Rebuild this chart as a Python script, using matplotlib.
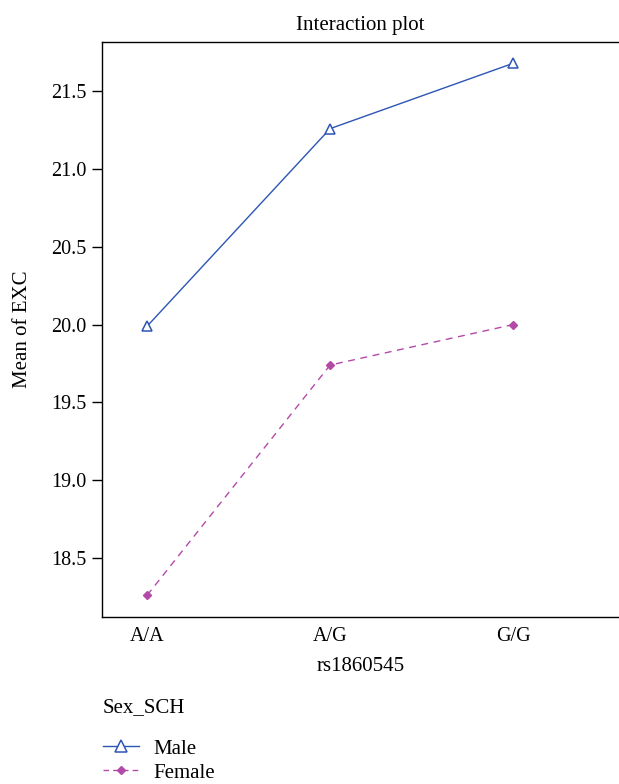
import numpy as np
import matplotlib
matplotlib.use('Agg')
import matplotlib.pyplot as plt
from matplotlib.lines import Line2D

# data
genotypes = ['A/A', 'A/G', 'G/G']
male_means = [19.99, 21.26, 21.68]
female_means = [18.26, 19.74, 20.00]
y_ticks = [18.5, 19.0, 19.5, 20.0, 20.5, 21.0, 21.5]

plt.rcParams['font.family'] = ['Liberation Serif', 'DejaVu Serif']

blue = '#2d55b4'
magenta = '#b34aa8'

fig = plt.figure(figsize=(6.19, 7.84), dpi=100)
ax = fig.add_axes([0.165, 0.213, 0.835, 0.733])

x = np.arange(len(genotypes))
ax.plot(x, male_means, color=blue, linewidth=1.0, marker='^', markersize=7.5,
        markerfacecolor='white', markeredgecolor=blue, markeredgewidth=1.1)
ax.plot(x, female_means, color=magenta, linewidth=1.0, linestyle=(0, (5, 4)),
        marker='D', markersize=4, markerfacecolor=magenta, markeredgecolor=magenta)

ax.set_xlim(-0.246, 2.579)
ax.set_ylim(18.12, 21.815)
ax.set_xticks(x)
ax.set_xticklabels(genotypes, fontsize=14.5)
ax.set_yticks(y_ticks)
ax.set_yticklabels([f'{v:.1f}' for v in y_ticks], fontsize=14.5)
ax.tick_params(axis='x', length=0, pad=7)
ax.tick_params(axis='y', length=7, width=1.0, direction='out', pad=4)
ax.spines['right'].set_visible(False)
for sp in ax.spines.values():
    sp.set_linewidth(1.0)

ax.set_title('Interaction plot', fontsize=15, pad=9)
ax.set_xlabel('rs1860545', fontsize=15, labelpad=8)
ax.set_ylabel('Mean of EXC', fontsize=15, labelpad=14)

handles = [
    Line2D([], [], color=blue, linewidth=1.0, marker='^', markersize=8,
           markerfacecolor='white', markeredgecolor=blue, markeredgewidth=1.1, label='Male'),
    Line2D([], [], color=magenta, linewidth=1.0, linestyle=(0, (4, 3)), marker='D',
           markersize=4.5, markerfacecolor=magenta, markeredgecolor=magenta, label='Female'),
]
fig.text(0.166, 1 - 708 / 784, 'Sex_SCH', fontsize=15, va='center', ha='left')
fig.legend(handles=handles, loc='upper left', bbox_to_anchor=(0.166, 1 - 739 / 784),
           frameon=False, fontsize=15, handlelength=1.75, handletextpad=0.7,
           labelspacing=0.22, borderpad=0, borderaxespad=0)

fig.savefig('out.png', dpi=100)
